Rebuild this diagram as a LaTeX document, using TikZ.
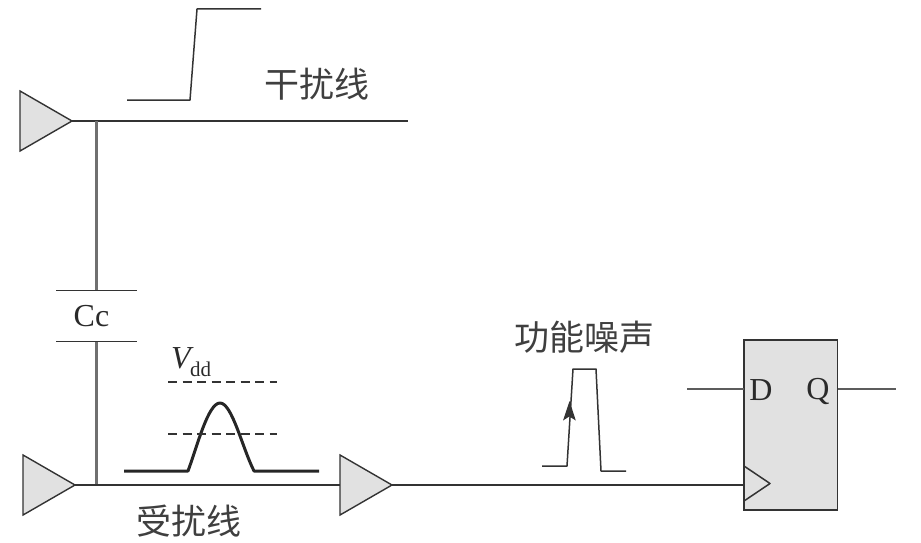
\documentclass[tikz,border=0pt]{standalone}
\usepackage{fontspec}
\setmainfont{Liberation Serif}
\newfontfamily\cjk{Noto Sans CJK SC}
\usetikzlibrary{shapes.geometric,arrows.meta}
\definecolor{ink}{HTML}{333333}
\definecolor{wirev}{HTML}{707070}
\definecolor{fillg}{HTML}{E1E1E1}
\definecolor{txt}{HTML}{2A2A2A}
\tikzset{
  buf/.style={isosceles triangle,isosceles triangle apex angle=60,minimum height=52pt,minimum width=60pt,
    inner sep=0pt,outer sep=0pt,draw=ink,fill=fillg,line width=1.4pt,anchor=apex},
  wire/.style={draw=ink,line width=1.7pt},
  vwire/.style={draw=wirev,line width=2.3pt},
  plate/.style={draw=ink,line width=1.3pt},
  wave/.style={draw=ink,line width=1.5pt,line join=round},
  bump/.style={draw=black!85,line width=3pt,line join=round},
  vdash/.style={draw=ink,line width=1.2pt,dash pattern=on 9pt off 5.5pt},
  cn/.style={font=\cjk\fontsize{35}{35}\selectfont,text=txt!90,inner sep=0pt},
  lat/.style={font=\fontsize{32}{32}\selectfont,text=txt,inner sep=0pt},
}
\begin{document}
\begin{tikzpicture}[x=1pt,y=-1pt]
\useasboundingbox (0,0) rectangle (921,543);
% buffers
\node[buf] (b1) at (72,121) {};
\node[buf] (b2) at (75,485) {};
\node[buf] (b3) at (392,485) {};
% flip-flop
\node[draw=ink,fill=fillg,line width=1.6pt,minimum width=93.5pt,minimum height=170pt,inner sep=0pt,outer sep=0pt] (ff) at (790.7,425) {};
\coordinate (ckt) at (744,466);
\coordinate (cka) at (770,483.5);
\coordinate (ckb) at (744,501);
\draw[wave] (ckt) -- (cka) -- (ckb);
% coordinates
\coordinate (aggEnd) at (408,121);
\coordinate (j1) at (96.6,121);
\coordinate (j2) at (96.6,485);
\coordinate (p1l) at (56,290.5);
\coordinate (p1r) at (137,290.5);
\coordinate (p1c) at (96.6,290.5);
\coordinate (p2l) at (56,341.5);
\coordinate (p2r) at (137,341.5);
\coordinate (p2c) at (96.6,341.5);
\coordinate (ckin) at (744,485);
\coordinate (dEnd) at (687,389);
\coordinate (dIn) at (744,389);
\coordinate (qOut) at (838,389);
\coordinate (qEnd) at (896,389);
% wires
\draw[wire] (b1.apex) -- (aggEnd);
\draw[vwire] (j1) -- (p1c);
\draw[vwire] (p2c) -- (j2);
\draw[plate] (p1l) -- (p1r);
\draw[plate] (p2l) -- (p2r);
\draw[wire] (b2.apex) -- (b3.lower side);
\draw[wire] (b3.apex) -- (ckin);
\draw[wire,draw=ink!80] (dEnd) -- (dIn);
\draw[wire,draw=ink!80] (qOut) -- (qEnd);
% waveforms
\draw[wave] (127,100) -- (190,100) -- (197,9) -- (261,9);
\draw[bump] (124,471) -- (188,471) .. controls (197,447) and (208,403) .. (220,403)
  .. controls (232,403) and (242,447) .. (254,471) -- (319,471);
\draw[vdash] (168,382) -- (277,382);
\draw[vdash] (168,434) -- (277,434);
\draw[wave] (542,466) -- (567,466) -- (573,369) -- (596,369) -- (601,471) -- (626,471);
\coordinate (arrS) at (568,423);
\coordinate (arrE) at (569.5,401);
\fill[ink] (arrE) -- (575.8,420.5) -- (569.3,416.5) -- (563,420.5) -- cycle;
% labels
\node[cn,anchor=center] (l1) at (317,84) {干扰线};
\node[cn,anchor=center] (l2) at (189,521) {受扰线};
\node[cn,anchor=center] (l3) at (584.5,337.5) {功能噪声};
\node[lat] (cc) at (91.5,316.5) {Cc};
\node[lat] (dl) at (761,390) {D};
\node[lat] (ql) at (818,391) {Q};
\node[lat,anchor=base west] (vl) at (171,368) {\textit{V}};
\node[font=\fontsize{21}{21}\selectfont,text=txt,inner sep=0pt,anchor=base west] (dd) at (190,376) {dd};
\end{tikzpicture}
\end{document}
